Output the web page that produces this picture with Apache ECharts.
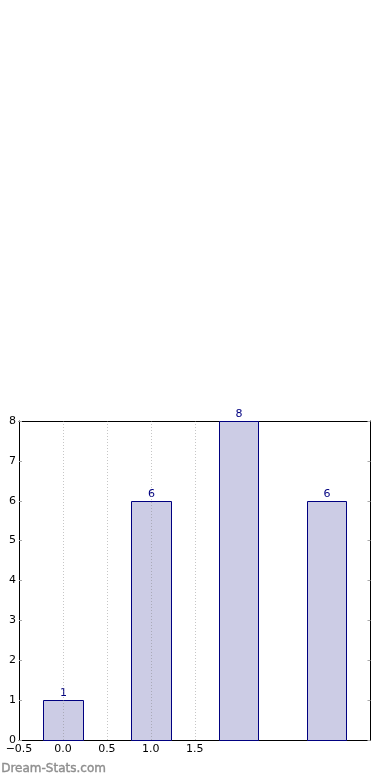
<!DOCTYPE html>
<html>
<head>
<meta charset="utf-8">
<style>
html,body{margin:0;padding:0;background:#fff;}
#chart{width:390px;height:780px;}
</style>
<script src="https://cdn.jsdelivr.net/npm/echarts@6/dist/echarts.min.js"></script>
</head>
<body>
<div id="chart"></div>
<script>
var positions = [0, 1, 2, 3];
var counts = [1, 6, 8, 6];
var xTicks = [-0.5, 0.0, 0.5, 1.0, 1.5];
var gridX = [0.0, 0.5, 1.0, 1.5];
var yTicks = [0, 1, 2, 3, 4, 5, 6, 7, 8];
var barWidthUnits = 0.45;

var chart = echarts.init(document.getElementById('chart'));
var fontFam = 'DejaVu Sans';
var data = positions.map(function (p, i) { return [p, counts[i]]; });

function fmtX(v) {
  if (xTicks.indexOf(v) < 0) return '';
  return v.toFixed(1).replace('-', '\u2212');
}

chart.setOption({
  animation: false,
  grid: { left: 19, right: 19.5, top: 421, bottom: 40, containLabel: false },
  graphic: [{
    type: 'text', left: 1, top: 763,
    style: { text: 'Dream-Stats.com', fill: '#8f8f8f', font: '12px "DejaVu Sans"', stroke: '#8f8f8f', lineWidth: 0.4 }
  }],
  xAxis: [{
    type: 'value', min: -0.5, max: 3.5, interval: 0.5, position: 'bottom',
    axisLine: { show: true, onZero: false, lineStyle: { color: '#000', width: 1 } },
    axisTick: { show: false },
    splitLine: { show: false },
    axisLabel: { formatter: fmtX, color: '#000', fontFamily: fontFam, fontSize: 11, margin: 4, showMinLabel: true, showMaxLabel: true }
  }, {
    type: 'value', min: -0.5, max: 3.5, interval: 0.5, position: 'top',
    axisLine: { show: true, onZero: false, lineStyle: { color: '#000', width: 1 } },
    axisTick: { show: false }, axisLabel: { show: false }, splitLine: { show: false }
  }],
  yAxis: [{
    type: 'value', min: 0, max: 8, interval: 1, position: 'left',
    axisLine: { show: true, onZero: false, lineStyle: { color: '#000', width: 1 } },
    axisTick: { show: true, inside: true, length: 3, lineStyle: { color: '#aaa' } },
    splitLine: { show: false },
    axisLabel: { color: '#000', fontFamily: fontFam, fontSize: 11, margin: 3 }
  }, {
    type: 'value', min: 0, max: 8, interval: 1, position: 'right',
    axisLine: { show: true, onZero: false, lineStyle: { color: '#000', width: 1 } },
    axisTick: { show: true, inside: true, length: 3, lineStyle: { color: '#aaa' } },
    splitLine: { show: false }, axisLabel: { show: false }
  }],
  series: [{
    type: 'custom', xAxisIndex: 0, yAxisIndex: 0, z: 2,
    data: data,
    renderItem: function (params, api) {
      var x = api.value(0), y = api.value(1);
      var p0 = api.coord([x - barWidthUnits / 2, 0]);
      var p1 = api.coord([x + barWidthUnits / 2, y]);
      var left = Math.round(p0[0]) + 0.5, right = Math.round(p1[0]) + 0.5;
      var top = Math.round(p1[1]) + 0.5, bottom = Math.round(p0[1]) + 0.5;
      return {
        type: 'group',
        children: [{
          type: 'rect',
          shape: { x: left, y: top, width: right - left, height: bottom - top },
          style: { fill: 'rgba(204,204,229,1)', stroke: '#000080', lineWidth: 1 }
        }, {
          type: 'text',
          style: {
            text: String(y), x: (left + right) / 2, y: top - 2,
            fill: '#000080', font: '11px "DejaVu Sans"', align: 'center', verticalAlign: 'bottom'
          }
        }]
      };
    }
  }, {
    type: 'line', data: [], silent: true, z: 3,
    markLine: {
      silent: true, symbol: 'none', label: { show: false },
      lineStyle: { type: [1, 2], color: '#808080', width: 1, opacity: 0.45 },
      data: gridX.map(function (g) { return { xAxis: g }; })
    }
  }]
});
</script>
</body>
</html>
